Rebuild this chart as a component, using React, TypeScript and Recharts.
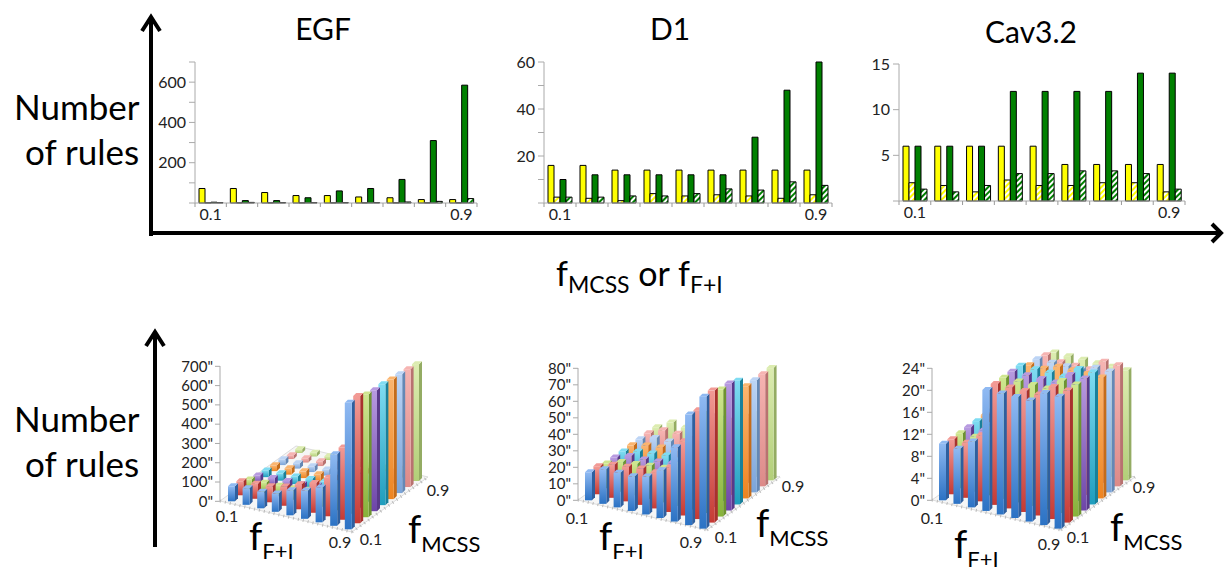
import React from 'react';
import { BarChart, Bar, XAxis, YAxis } from 'recharts';

const FONT = 'Lato, "Open Sans", sans-serif';

// top row, 2D bars
const categories = ['0.1', '0.2', '0.3', '0.4', '0.5', '0.6', '0.7', '0.8', '0.9'];

const egfYellow = [72, 72, 52, 37, 37, 30, 26, 17, 17];
const egfYellowHatch = [1, 1, 1, 1, 1, 1, 1, 1, 1];
const egfGreen = [4, 12, 12, 26, 60, 72, 117, 310, 585];
const egfGreenHatch = [2, 3, 2, 2, 2, 2, 5, 8, 22];

const d1Yellow = [16, 16, 14, 14, 14, 14, 14, 14, 14];
const d1YellowHatch = [2.5, 2, 1, 4, 3, 3.5, 3, 2, 3.5];
const d1Green = [10, 12, 12, 12, 12, 12, 28, 48, 60];
const d1GreenHatch = [2.5, 2.5, 3, 3, 4, 6, 5.5, 9, 7.5];

const cavYellow = [6, 6, 6, 6, 6, 4, 4, 4, 4];
const cavYellowHatch = [2, 1.7, 1, 2.3, 1.7, 1.7, 2, 2, 1];
const cavGreen = [6, 6, 6, 12, 12, 12, 12, 14, 14];
const cavGreenHatch = [1.3, 1, 1.7, 3, 3, 3.3, 3.3, 3, 1.3];

// bottom row, one list per fMCSS level, front to back
const egfRows = [
  [78, 86, 86, 95, 130, 147, 181, 371, 656],
  [73, 78, 83, 100, 130, 155, 200, 375, 660],
  [50, 52, 55, 60, 70, 85, 120, 220, 637],
  [40, 45, 48, 50, 60, 72, 100, 160, 627],
  [35, 38, 40, 45, 50, 60, 80, 120, 627],
  [30, 33, 35, 38, 42, 50, 65, 95, 620],
  [30, 28, 30, 32, 36, 42, 52, 80, 616],
  [20, 22, 25, 28, 30, 35, 45, 60, 611],
  [20, 20, 20, 22, 25, 30, 35, 45, 606],
];
const d1Rows = [
  [17, 21, 21, 21, 23, 29, 45, 67, 80],
  [17, 20, 21, 22, 22, 27, 45, 66, 80],
  [15, 18, 19, 20, 21, 25, 38, 60, 77],
  [15, 18, 18, 19, 20, 24, 34, 55, 77],
  [15, 17, 18, 19, 19, 23, 30, 50, 75],
  [15, 17, 18, 18, 19, 22, 28, 45, 68],
  [15, 18, 18, 18, 19, 22, 28, 42, 68],
  [15, 19, 19, 18, 19, 22, 27, 40, 68],
  [15, 20, 19, 18, 19, 21, 26, 38, 68],
];
const cavRows = [
  [10.3, 10, 12, 22, 22, 22, 22, 24, 24],
  [10, 10, 12, 22, 22, 22, 22, 24, 24],
  [10, 10, 12, 22, 22, 22, 22, 24, 24],
  [10, 10, 12, 22, 22, 22, 22, 24, 24],
  [10, 10, 12, 22, 22, 22, 22, 24, 24],
  [10, 10, 12, 21, 21, 22, 22, 22, 22],
  [10, 10, 12, 21, 21, 21, 21, 22, 22],
  [10, 10, 12, 20.6, 20, 20, 20, 22, 22],
  [10, 10, 12, 20, 20, 20, 20, 20, 20],
];

const rowTop = ['#8fb9f2', '#f29a95', '#cfe68f', '#b79ae0', '#7fdcf2', '#fbb56f', '#bcd4f5', '#f6b4b2', '#dcecb0'];
const rowBottom = ['#2b72c4', '#c53a34', '#86b23a', '#6d45a8', '#1f9dbd', '#ee8420', '#7ba4d8', '#dc8a88', '#b2cf78'];
const rowSide = ['#2f5f9e', '#a8322d', '#6e9330', '#59398a', '#19809a', '#c46c1a', '#6488b5', '#b87270', '#94ac63'];

const makeFlat = (yellow: number[], yellowHatch: number[], green: number[], greenHatch: number[]) =>
  categories.map((name, i) => ({ name, yellow: yellow[i], yellowHatch: yellowHatch[i], green: green[i], greenHatch: greenHatch[i] }));

interface FlatProps {
  left: number;
  top: number;
  width: number;
  height: number;
  max: number;
  ticks: number[];
  labelled: number[];
  data: ReturnType<typeof makeFlat>;
}

const FlatChart: React.FC<FlatProps> = ({ left, top, width, height, max, ticks, labelled, data }) => {
  const step = width / 9;
  const XTick = (p: any) => {
    const edge = p.x - step / 2;
    const label = p.index === 0 || p.index === 8 ? p.payload.value : '';
    return (
      <g>
        <line x1={edge} x2={edge} y1={p.y - 8} y2={p.y - 4} stroke="#999" />
        {p.index === 8 && <line x1={p.x + step / 2} x2={p.x + step / 2} y1={p.y - 8} y2={p.y - 4} stroke="#999" />}
        <text x={p.x} y={p.y + 9} textAnchor="middle" fontSize={16} fill="#222" fontFamily={FONT}>{label}</text>
      </g>
    );
  };
  return (
    <div style={{ position: 'absolute', left: left - 45, top: top - 10 }}>
      <BarChart width={width + 45 + 10} height={height + 40} data={data} barSize={6} barGap={0}
        margin={{ top: 10, right: 10, bottom: 0, left: 0 }}>
        <XAxis dataKey="name" interval={0} height={30} stroke="#aaa" tickLine={false} tick={XTick} />
        <YAxis width={45} domain={[0, max]} ticks={ticks} interval={0} stroke="#aaa" tickSize={6} tickMargin={3}
          tick={{ fontSize: 16, fill: '#222', fontFamily: FONT }}
          tickFormatter={(v: number) => (labelled.includes(v) ? String(v) : '')} />
        <Bar dataKey="yellow" fill="#ffff00" stroke="#000" isAnimationActive={false} />
        <Bar dataKey="yellowHatch" fill="url(#hatchYellow)" stroke="#000" isAnimationActive={false} />
        <Bar dataKey="green" fill="#008000" stroke="#000" isAnimationActive={false} />
        <Bar dataKey="greenHatch" fill="url(#hatchGreen)" stroke="#000" isAnimationActive={false} />
      </BarChart>
    </div>
  );
};

interface BlockProps {
  axisX: number;
  baseY: number;
  height: number;
  lead: number;
  colDx: number;
  colDy: number;
  rowDx: number;
  rowDy: number;
  max: number;
  ticks: number[];
  rows: number[][];
}

// one Bar per fMCSS level, each on its own hidden axes so the row sits further back
const BlockChart: React.FC<BlockProps> = ({ axisX, baseY, height, lead, colDx, colDy, rowDx, rowDy, max, ticks, rows }) => {
  const labelW = 50;
  const plotW = lead + 9 * colDx + 8 * rowDx;
  const plotH = height + 8 * rowDy;
  const data = categories.map((name, c) => {
    const item: Record<string, number | string> = { name };
    rows.forEach((row, r) => { item[`r${r}`] = row[c]; });
    return item;
  });
  const block = (r: number) => (p: any) => {
    const { x, y, width: w, height: h, index } = p;
    const sx = 3;
    const sy = 3;
    return (
      <g transform={`translate(0 ${index * colDy})`}>
        <polygon points={`${x + w},${y} ${x + w + sx},${y - sy} ${x + w + sx},${y + h - sy} ${x + w},${y + h}`} fill={rowSide[r]} />
        <rect x={x} y={y} width={w} height={h} fill={`url(#rowGrad${r})`} />
        <polygon points={`${x},${y} ${x + w},${y} ${x + w + sx},${y - sy} ${x + sx},${y - sy}`} fill={rowTop[r]} />
      </g>
    );
  };
  return (
    <div style={{ position: 'absolute', left: axisX - labelW, top: baseY - plotH }}>
      <BarChart width={plotW + labelW + 20} height={plotH + 45} data={data} barSize={7}
        margin={{ top: 0, right: 20, bottom: 45, left: 0 }}>
        {rows.map((_, r) => (
          <XAxis key={r} xAxisId={r} dataKey="name" hide
            padding={{ left: lead + r * rowDx, right: (8 - r) * rowDx }} />
        ))}
        {rows.map((_, r) => (
          <YAxis key={r} yAxisId={r} hide={r !== 0} width={labelW} domain={[0, max]} ticks={ticks} interval={0}
            padding={{ top: (8 - r) * rowDy, bottom: r * rowDy }}
            axisLine={false} tickSize={5} tickMargin={2} tickLine={{ stroke: '#aaa' }}
            tick={{ fontSize: 15, fill: '#222', fontFamily: FONT }}
            tickFormatter={(v: number) => `${v}"`} />
        ))}
        {rows.map((_, r) => r).reverse().map((r) => (
          <Bar key={r} dataKey={`r${r}`} xAxisId={r} yAxisId={r} fill={rowSide[r]} shape={block(r)} isAnimationActive={false} />
        ))}
      </BarChart>
    </div>
  );
};

const Floor = ({ left, bottom, right }: { left: number[]; bottom: number[]; right: number[] }) => {
  const top = [left[0] + right[0] - bottom[0], left[1] + right[1] - bottom[1]];
  return (
    <g>
      <polygon points={`${left} ${bottom} ${right} ${top}`} fill="#f6f6f6" stroke="#dcdcdc" />
      <line x1={left[0]} y1={left[1]} x2={bottom[0]} y2={bottom[1]} stroke="#bbb" strokeDasharray="1 4" strokeWidth={3} />
      <line x1={bottom[0]} y1={bottom[1]} x2={right[0]} y2={right[1]} stroke="#bbb" strokeDasharray="1 4" strokeWidth={3} />
    </g>
  );
};

const Sub = ({ x, y, main, sub, size = 38, subSize = 22, drop = 9 }: any) => (
  <text x={x} y={y} fontSize={size} fontFamily={FONT} fill="#000">
    {main}<tspan dy={drop} fontSize={subSize}>{sub}</tspan>
  </text>
);

const Small = ({ x, y, children }: any) => (
  <text x={x} y={y} textAnchor="middle" dominantBaseline="central" fontSize={16} fontFamily={FONT} fill="#222">{children}</text>
);

const Big = ({ x, y, children }: any) => (
  <text x={x} y={y} fontSize={35} fontFamily={FONT} fill="#000">{children}</text>
);

const Title = ({ x, y, children }: any) => (
  <text x={x} y={y} textAnchor="middle" fontSize={30} fontFamily={FONT} fill="#000">{children}</text>
);

export default function App() {
  return (
    <div style={{ position: 'absolute', left: 0, top: 0, width: 1225, height: 571, overflow: 'hidden', background: '#fff' }}>
      <svg width={1225} height={571} style={{ position: 'absolute', left: 0, top: 0 }}>
        <defs>
          <pattern id="hatchYellow" width={4} height={4} patternUnits="userSpaceOnUse" patternTransform="rotate(45)">
            <rect width={4} height={4} fill="#fff" />
            <rect width={2} height={4} fill="#ffff00" />
          </pattern>
          <pattern id="hatchGreen" width={4} height={4} patternUnits="userSpaceOnUse" patternTransform="rotate(45)">
            <rect width={4} height={4} fill="#fff" />
            <rect width={2} height={4} fill="#008000" />
          </pattern>
          {rowTop.map((c, r) => (
            <linearGradient key={r} id={`rowGrad${r}`} x1={0} y1={0} x2={0} y2={1}>
              <stop offset="0%" stopColor={c} />
              <stop offset="100%" stopColor={rowBottom[r]} />
            </linearGradient>
          ))}
        </defs>

        <g stroke="#000" strokeWidth={4} fill="none">
          <path d="M151 236 V17 M142 31 L151 17 L160 31" />
          <path d="M149 233 H1221 M1212 224 L1221 233 L1212 242" />
          <path d="M155 547 V332 M146 346 L155 332 L164 346" />
        </g>

        <Big x={14} y={120}>Number</Big>
        <Big x={25} y={165}>of rules</Big>
        <Big x={14} y={432}>Number</Big>
        <Big x={25} y={477}>of rules</Big>

        <Title x={323} y={40}>EGF</Title>
        <Title x={670} y={40}>D1</Title>
        <Title x={1031} y={43}>Cav3.2</Title>

        <text x={556} y={286} fontSize={34} fontFamily={FONT} fill="#000">
          f<tspan dy={7} fontSize={23}>MCSS</tspan>
          <tspan dy={-7} fontSize={34}> or f</tspan>
          <tspan dy={7} fontSize={23}>F+I</tspan>
        </text>

        <Floor left={[220, 501]} bottom={[352, 532]} right={[428, 477]} />
        <Floor left={[578, 500]} bottom={[707, 530]} right={[780, 477]} />
        <Floor left={[932, 500]} bottom={[1061, 530]} right={[1135, 477]} />
        <line x1={220} y1={366} x2={220} y2={501} stroke="#aaa" />
        <line x1={578} y1={368} x2={578} y2={500} stroke="#aaa" />
        <line x1={932} y1={368} x2={932} y2={500} stroke="#aaa" />

        <Small x={227} y={515}>0.1</Small>
        <Small x={340} y={541}>0.9</Small>
        <Small x={371} y={538}>0.1</Small>
        <Small x={438} y={489}>0.9</Small>
        <Small x={577} y={517}>0.1</Small>
        <Small x={691} y={541}>0.9</Small>
        <Small x={726} y={536}>0.1</Small>
        <Small x={793} y={485}>0.9</Small>
        <Small x={932} y={517}>0.1</Small>
        <Small x={1049} y={543}>0.9</Small>
        <Small x={1078} y={536}>0.1</Small>
        <Small x={1144} y={486}>0.9</Small>

        <Sub x={249} y={550} main="f" sub="F+I" />
        <Sub x={408} y={543} main="f" sub="MCSS" />
        <Sub x={599} y={550} main="f" sub="F+I" />
        <Sub x={756} y={537} main="f" sub="MCSS" />
        <Sub x={954} y={558} main="f" sub="F+I" />
        <Sub x={1110} y={541} main="f" sub="MCSS" />
      </svg>

      <FlatChart left={195} top={62} width={282} height={141} max={700} ticks={[0, 100, 200, 300, 400, 500, 600, 700]} labelled={[200, 400, 600]}
        data={makeFlat(egfYellow, egfYellowHatch, egfGreen, egfGreenHatch)} />
      <FlatChart left={544} top={62} width={288} height={141} max={60} ticks={[0, 10, 20, 30, 40, 50, 60]} labelled={[20, 40, 60]}
        data={makeFlat(d1Yellow, d1YellowHatch, d1Green, d1GreenHatch)} />
      <FlatChart left={899} top={64} width={286} height={137} max={15} ticks={[0, 5, 10, 15]} labelled={[5, 10, 15]}
        data={makeFlat(cavYellow, cavYellowHatch, cavGreen, cavGreenHatch)} />

      <BlockChart axisX={220} baseY={501} height={135} lead={4} colDx={14.6} colDy={3.5} rowDx={8.4} rowDy={6.04} max={700}
        ticks={[0, 100, 200, 300, 400, 500, 600, 700]} rows={egfRows} />
      <BlockChart axisX={578} baseY={500} height={132} lead={3} colDx={14.3} colDy={3.54} rowDx={8.4} rowDy={6.04} max={80}
        ticks={[0, 10, 20, 30, 40, 50, 60, 70, 80]} rows={d1Rows} />
      <BlockChart axisX={932} baseY={500} height={132} lead={3} colDx={14.45} colDy={3.54} rowDx={8.35} rowDy={6.04} max={24}
        ticks={[0, 4, 8, 12, 16, 20, 24]} rows={cavRows} />
    </div>
  );
}
